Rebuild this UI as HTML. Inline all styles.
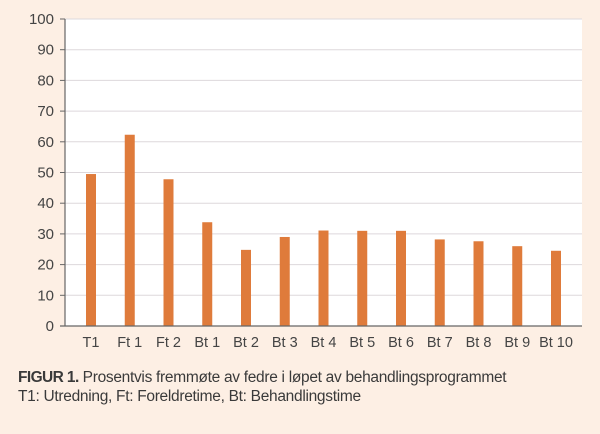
<!DOCTYPE html>
<html><head><meta charset="utf-8"><style>
html,body{margin:0;padding:0;}
body{width:600px;height:434px;background:#fdefe4;font-family:"Liberation Sans",sans-serif;overflow:hidden;position:relative;}
.cap{position:absolute;left:18px;font-size:15.5px;color:#3a3a3a;letter-spacing:-0.3px;}
</style></head><body>
<svg width="600" height="434" style="position:absolute;left:0;top:0">
<rect x="65" y="19" width="517" height="307" fill="#fff"/>
<g id="grid"></g><g id="bars"></g><g id="ticks"></g><g id="xlabels"></g>
<line x1="65" y1="19" x2="65" y2="326" stroke="#666" stroke-width="1.2"/>
<line x1="60" y1="326" x2="582" y2="326" stroke="#666" stroke-width="1.2"/>
</svg>
<div class="cap" style="top:369px"><b style="letter-spacing:-0.6px">FIGUR 1.</b> Prosentvis fremmøte av fedre i løpet av behandlingsprogrammet</div>
<div class="cap" style="top:388px">T1: Utredning, Ft: Foreldretime, Bt: Behandlingstime</div>
<script>
const categories=["T1","Ft 1","Ft 2","Bt 1","Bt 2","Bt 3","Bt 4","Bt 5","Bt 6","Bt 7","Bt 8","Bt 9","Bt 10"];
const values=[49.5,62.3,47.8,33.8,24.8,29,31.1,31,31,28.2,27.6,26,24.5];
const yTicks=[0,10,20,30,40,50,60,70,80,90,100];
const NS="http://www.w3.org/2000/svg";
const y=v=>326-v*3.07;
const x=i=>91+i*38.75;
function mk(t,a,p){const e=document.createElementNS(NS,t);for(const k in a)e.setAttribute(k,a[k]);document.getElementById(p).appendChild(e);return e;}
yTicks.forEach(t=>{
 if(t>0){const g=mk('line',{x1:65,x2:582,y1:y(t),y2:y(t),stroke:'#ddd8dc','stroke-width':1},'grid');
 
 }
 const tk=mk('line',{x1:60,x2:65,y1:y(t),y2:y(t),stroke:'#666'},'ticks');
 
 
 const l=mk('text',{x:54,y:y(t)+5,'text-anchor':'end','font-size':'15',fill:'#444','font-family':'Liberation Sans'},'ticks');
 l.textContent=t;
 
 
});
values.forEach((v,i)=>{
 const b=mk('rect',{x:x(i)-5,y:y(v),width:10,height:326-y(v),fill:'#df7b3b'},'bars');
 
 
 const l=mk('text',{x:x(i),y:347,'text-anchor':'middle','font-size':'14.5',fill:'#444','font-family':'Liberation Sans'},'xlabels');
 l.textContent=categories[i];
 
 
});
</script>
</body></html>
